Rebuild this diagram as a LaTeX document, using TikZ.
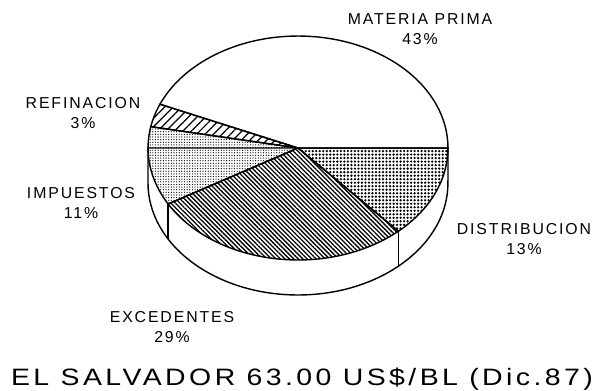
\documentclass[tikz,border=0pt]{standalone}
\usepackage{graphicx}
\usepackage{fontspec}
\setmainfont{Liberation Sans}
\newfontfamily\slicefont[LetterSpace=12]{Liberation Sans}
\newfontfamily\titlefont[LetterSpace=12]{Liberation Sans}
\usetikzlibrary{patterns.meta}

\tikzset{
    slicelabel/.style={align=center,inner sep=0pt,
        font=\slicefont\fontsize{9}{11}\selectfont},
    rim/.style={line width=0.8pt,fill=white},
    refhatch/.style={line width=0.8pt,
        pattern={Lines[angle=45,distance=3.4pt,line width=0.7pt]}},
    taxdots/.style={line width=0.8pt,
        pattern={Dots[distance=1.5pt,radius=0.36pt]}},
    surplushatch/.style={line width=0.8pt,
        pattern={Lines[angle=-45,distance=1.8pt,line width=0.75pt]}},
    distdots/.style={line width=0.8pt,
        pattern={Dots[distance=2pt,radius=0.72pt]}},
}

\begin{document}
\begin{tikzpicture}[x=0.02cm,y=0.02cm]
    \useasboundingbox (0,0) rectangle (601,390);
    \coordinate (C) at (298,242);

    % Side wall of the pie
    \draw [rim] (148,242) -- (148,207)
        arc [start angle=180,end angle=360,x radius=3cm,y radius=2.24cm]
        -- (448,242) -- cycle;
    \draw [line width=0.8pt] (C) ++(210:3cm and 2.24cm) -- ++(0,-35);
    \draw [line width=0.8pt] (C) ++(312:3cm and 2.24cm) -- ++(0,-35);

    % Slices on the top face
    \draw [rim] (C) -- ++(0:3cm and 2.24cm)
        arc [start angle=0,end angle=157,x radius=3cm,y radius=2.24cm] -- cycle;
    \draw [refhatch] (C) -- ++(157:3cm and 2.24cm)
        arc [start angle=157,end angle=169,x radius=3cm,y radius=2.24cm] -- cycle;
    \draw [taxdots] (C) -- ++(169:3cm and 2.24cm)
        arc [start angle=169,end angle=210,x radius=3cm,y radius=2.24cm] -- cycle;
    \draw [surplushatch] (C) -- ++(210:3cm and 2.24cm)
        arc [start angle=210,end angle=312,x radius=3cm,y radius=2.24cm] -- cycle;
    \draw [distdots] (C) -- ++(312:3cm and 2.24cm)
        arc [start angle=312,end angle=360,x radius=3cm,y radius=2.24cm] -- cycle;

    % Labels
    \node [slicelabel] (materia) at (420,361) {MATERIA PRIMA\\43\%};
    \node [slicelabel] (refinacion) at (83,277) {REFINACION\\3\%};
    \node [slicelabel] (impuestos) at (81,187) {IMPUESTOS\\11\%};
    \node [slicelabel] (distribucion) at (524,151) {DISTRIBUCION\\13\%};
    \node [slicelabel] (excedentes) at (172,63) {EXCEDENTES\\29\%};

    % Title
    \node [anchor=base,inner sep=0pt,font=\titlefont\fontsize{13.5}{16}\selectfont]
        (titulo) at (302,5) {\scalebox{1.2}[1]{EL SALVADOR 63.00 US\$/BL (Dic.87)}};
\end{tikzpicture}
\end{document}
